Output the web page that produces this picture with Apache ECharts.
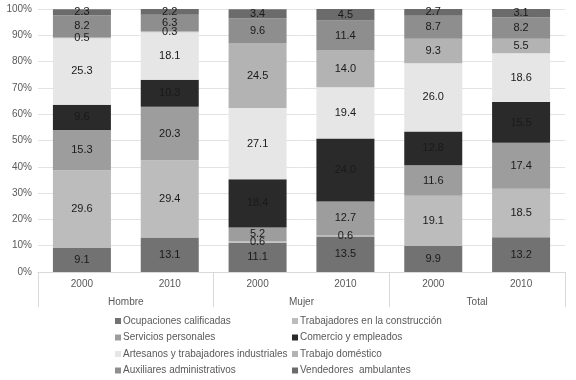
<!DOCTYPE html>
<html>
<head>
<meta charset="utf-8">
<script src="https://cdn.jsdelivr.net/npm/echarts@6/dist/echarts.min.js"></script>
<style>
  html, body { margin: 0; padding: 0; background: #fff; }
  #main { width: 576px; height: 380px; }
</style>
</head>
<body>
<div id="main"></div>
<script>
  // categorias del eje
  var years = ['2000', '2010', '2000', '2010', '2000', '2010'];
  var groups = ['Hombre', 'Mujer', 'Total'];

  // series (de abajo hacia arriba)
  var ocupaciones = [9.1, 13.1, 11.1, 13.5, 9.9, 13.2];
  var construccion = [29.6, 29.4, 0.6, 0.6, 19.1, 18.5];
  var servicios = [15.3, 20.3, 5.2, 12.7, 11.6, 17.4];
  var comercio = [9.6, 10.3, 18.4, 24.0, 12.8, 15.5];
  var artesanos = [25.3, 18.1, 27.1, 19.4, 26.0, 18.6];
  var domestico = [0.5, 0.3, 24.5, 14.0, 9.3, 5.5];
  var auxiliares = [8.2, 6.3, 9.6, 11.4, 8.7, 8.2];
  var vendedores = [2.3, 2.2, 3.4, 4.5, 2.7, 3.1];

  var names = [
    'Ocupaciones calificadas',
    'Trabajadores en la construcción',
    'Servicios personales',
    'Comercio y empleados',
    'Artesanos y trabajadores industriales',
    'Trabajo doméstico',
    'Auxiliares administrativos',
    'Vendedores  ambulantes'
  ];
  var values = [ocupaciones, construccion, servicios, comercio, artesanos, domestico, auxiliares, vendedores];
  var colors = ['#727272', '#bcbcbc', '#9d9d9d', '#2a2a2a', '#e6e6e6', '#b3b3b3', '#8e8e8e', '#6b6b6b'];

  var chart = echarts.init(document.getElementById('main'));

  var series = names.map(function (n, i) {
    return {
      name: n,
      type: 'bar',
      stack: 'total',
      barWidth: 58,
      data: values[i],
      itemStyle: { color: colors[i] },
      label: {
        show: true,
        position: 'inside',
        color: '#1a1a1a',
        fontSize: 11,
        fontFamily: 'Liberation Sans',
        formatter: function (p) { return p.value.toFixed(1); }
      }
    };
  });

  var legendBase = {
    orient: 'vertical',
    icon: 'rect',
    itemWidth: 6,
    itemHeight: 6,
    itemGap: 4.5,
    top: 315,
    height: 70,
    padding: 0,
    textStyle: { fontSize: 10, color: '#595959', fontFamily: 'Liberation Sans', lineHeight: 12, padding: [0, 0, 0, -3] }
  };

  chart.setOption({
    animation: false,
    color: colors,
    textStyle: { fontFamily: 'Liberation Sans' },
    grid: { left: 38, right: 11, top: 9, bottom: 108 },
    legend: [
      Object.assign({ left: 115, data: [names[0], names[2], names[4], names[6]] }, legendBase),
      Object.assign({ left: 292, data: [names[1], names[3], names[5], names[7]] }, legendBase)
    ],
    xAxis: [
      {
        type: 'category',
        data: years,
        position: 'bottom',
        offset: 0,
        axisLine: { show: true, lineStyle: { color: '#d9d9d9' } },
        axisTick: { show: false },
        axisLabel: { color: '#595959', fontSize: 10, margin: 7 }
      },
      {
        type: 'category',
        data: groups,
        position: 'bottom',
        offset: 0,
        axisLine: { show: false },
        axisTick: { show: true, length: 35, interval: 0, lineStyle: { color: '#d9d9d9' } },
        axisLabel: { color: '#595959', fontSize: 10, margin: 25 }
      }
    ],
    yAxis: {
      type: 'value',
      min: 0,
      max: 100,
      interval: 10,
      axisLine: { show: false },
      axisTick: { show: false },
      axisLabel: { formatter: '{value}%', color: '#595959', fontSize: 10, margin: 6 },
      splitLine: { lineStyle: { color: '#e3e3e3' } }
    },
    series: series
  });
</script>
</body>
</html>
